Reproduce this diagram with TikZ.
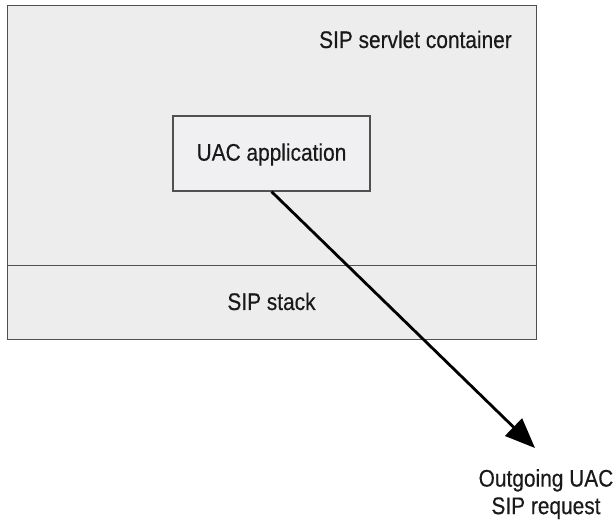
\documentclass[tikz,border=0pt]{standalone}
\usepackage{fontspec}
\setmainfont{Liberation Sans}[FakeStretch=0.87,FakeBold=0.4]
\usetikzlibrary{arrows.meta}
\definecolor{panelfill}{HTML}{EDEDED}
\definecolor{appfill}{HTML}{F0F0F2}
\definecolor{edgegray}{HTML}{505050}
\begin{document}
\begin{tikzpicture}[x=1pt,y=1pt,
  panel/.style={draw=edgegray,line width=1.4pt,fill=panelfill,inner sep=0pt},
  appbox/.style={draw=edgegray,line width=1.2pt,fill=appfill,inner sep=0pt,
    minimum width=197pt,minimum height=75pt},
  lbl/.style={inner sep=0pt,text=black!90,font=\fontsize{24}{27.5}\selectfont},
  flow/.style={line width=2.8pt,-{Triangle[length=30pt,width=24pt]}}]
  \useasboundingbox (0,0) rectangle (614,520);
  % container and stack panels
  \node[panel,minimum width=529pt,minimum height=260pt,anchor=north west]
    (container) at (7,515) {};
  \node[panel,minimum width=529pt,minimum height=74pt,anchor=north west]
    (stack) at (7,255) {};
  \node[lbl,anchor=base east] (containerlbl) at (512,472) {SIP servlet container};
  \node[lbl,anchor=base] (stacklbl) at (271.5,210) {SIP stack};
  % application box
  \node[appbox] (app) at (271.5,366.5) {};
  \node[lbl,anchor=base] (applbl) at (271.5,359.3) {UAC application};
  % outgoing request
  \coordinate (tip) at (535,72);
  \draw[flow] (app.south) -- (tip);
  \node[lbl,align=center,anchor=north] (outlbl) at (546,51)
    {Outgoing UAC\\SIP request};
\end{tikzpicture}
\end{document}
